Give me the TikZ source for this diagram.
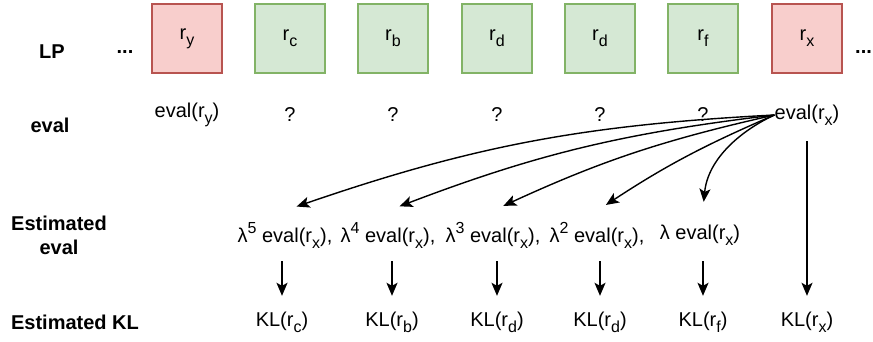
\documentclass[tikz,border=0pt]{standalone}
\usepackage{fontspec}
\setmainfont{Liberation Sans}
\usetikzlibrary{positioning,arrows.meta}
\definecolor{redfill}{HTML}{F8CECC}
\definecolor{redline}{HTML}{B85450}
\definecolor{greenfill}{HTML}{D5E8D4}
\definecolor{greenline}{HTML}{82B366}
\newcommand{\fs}{\fontsize{20}{24}\selectfont}
\newcommand{\lowtxt}[1]{\raisebox{-0.3em}{\fontsize{16}{16}\selectfont #1}}
\newcommand{\hightxt}[1]{\raisebox{0.45em}{\fontsize{16}{16}\selectfont #1}}
\newcommand{\evx}{eval(r\lowtxt{x})}

\begin{document}
\begin{tikzpicture}[x=1pt,y=-1pt,
  cell/.style={draw,line width=1.3pt,minimum width=70pt,minimum height=69pt,inner sep=0pt,font=\fs},
  bad/.style={cell,fill=redfill,draw=redline},
  good/.style={cell,fill=greenfill,draw=greenline},
  txt/.style={font=\fs,inner sep=0pt,minimum height=52pt},
  head/.style={font=\fs\bfseries,inner sep=0pt,align=center},
  arr/.style={line width=1.4pt,-{Stealth[length=13pt,width=11pt,inset=3pt]}}]
\useasboundingbox (0,0) rectangle (873,341);
% row labels
\node[head] (hlp) at (52,52) {LP};
\node[head] (hev) at (50,125) {eval};
\node[head] (hest) at (59,235) {Estimated\\eval};
\node[head] (hkl) at (75,322) {Estimated KL};
% LP boxes
\node[txt,font=\fs\bfseries] (dl) at (125,52) {...};
\node[bad] (ry) at (187,38.5) {r\lowtxt{y}};
\node[good] (rc) at (290,38.5) {r\lowtxt{c}};
\node[good] (rb) at (393,38.5) {r\lowtxt{b}};
\node[good] (rd) at (497,38.5) {r\lowtxt{d}};
\node[good] (rdd) at (600,38.5) {r\lowtxt{d}};
\node[good] (rf) at (703,38.5) {r\lowtxt{f}};
\node[bad] (rx) at (807,38.5) {r\lowtxt{x}};
\node[txt,font=\fs\bfseries,anchor=west] (dr) at (855,52) {...};
% eval row
\node[txt] (evy) at (187,115) {eval(r\lowtxt{y})};
\node[txt] (q1) at (290,115) {?};
\node[txt] (q2) at (393,115) {?};
\node[txt] (q3) at (497,115) {?};
\node[txt] (q4) at (600,115) {?};
\node[txt] (q5) at (703,115) {?};
\node[txt] (evx) at (807,115) {\evx};
% estimated eval
\node[txt] (lam5) at (285,235) {λ\hightxt{5} \evx,};
\node[txt] (lam4) at (388,235) {λ\hightxt{4} \evx,};
\node[txt] (lam3) at (493,235) {λ\hightxt{3} \evx,};
\node[txt] (lam2) at (597,235) {λ\hightxt{2} \evx,};
\node[txt] (lam1) at (700,235) {λ \evx};
% estimated KL
\node[txt] (klc) at (282,322) {KL(r\lowtxt{c})};
\node[txt] (klb) at (392,322) {KL(r\lowtxt{b})};
\node[txt] (kld) at (497,322) {KL(r\lowtxt{d})};
\node[txt] (kldd) at (600,322) {KL(r\lowtxt{d})};
\node[txt] (klf) at (703,322) {KL(r\lowtxt{f})};
\node[txt] (klx) at (807,322) {KL(r\lowtxt{x})};
% decayed estimates
\draw[arr,shorten >=7pt] (evx.west) to[bend right=8] (lam5.north -| rc.center);
\draw[arr,shorten >=7pt] (evx.west) to[bend right=7] (lam4.north -| rb.center);
\draw[arr,shorten >=7pt] (evx.west) to[bend right=6] (lam3.north -| rd.center);
\draw[arr,shorten >=7pt] (evx.west) to[bend right=5] (lam2.north -| rdd.center);
\draw[arr,shorten >=7pt] (evx.west) .. controls (742,130) and (708,158) .. (lam1.north -| rf.center);
\draw[arr] (evx.south) -- (klx.north);
\foreach \a/\b in {lam5/klc,lam4/klb,lam3/kld,lam2/kldd,lam1/klf}
  \draw[arr] (\b.north |- \a.south) -- (\b.north);
\end{tikzpicture}
\end{document}
